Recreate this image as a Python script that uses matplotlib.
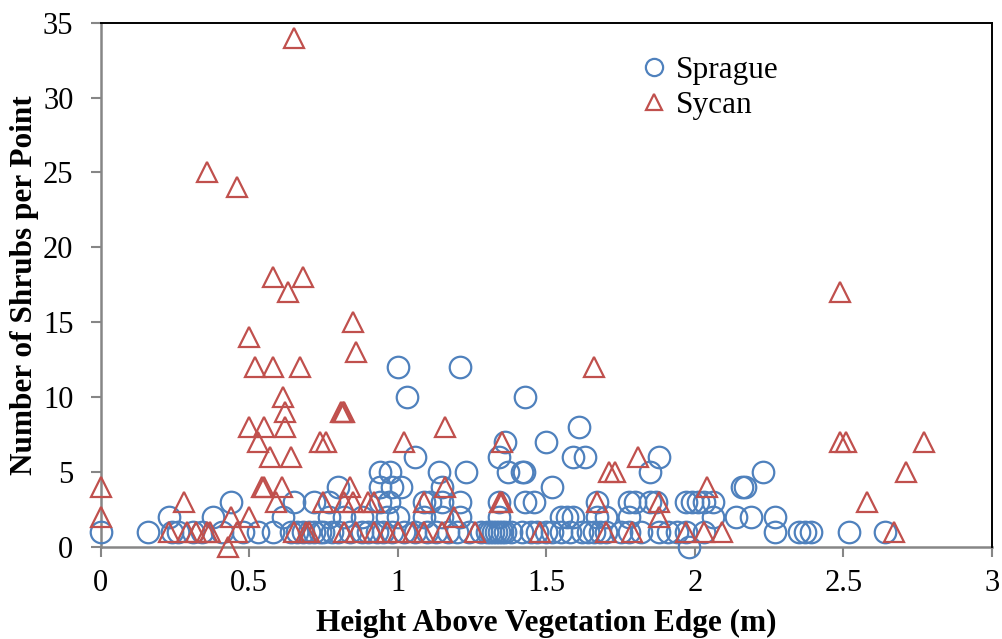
import matplotlib
matplotlib.use("Agg")
import matplotlib.pyplot as plt

# ---- data ----
sprague_x = [1.00, 1.21,
             1.03, 1.43,
             1.61,
             1.36, 1.50,
             1.06, 1.34, 1.59, 1.63, 1.88,
             0.94, 0.975, 1.14, 1.23, 1.37, 1.42, 1.425, 1.85, 2.23,
             0.80, 0.94, 0.98, 1.01, 1.15, 1.52, 2.16, 2.17,
             0.44, 0.65, 0.72, 0.77, 0.94, 0.97, 1.09, 1.11, 1.15, 1.21, 1.34, 1.43, 1.46,
             1.67, 1.78, 1.80, 1.85, 1.87, 1.97, 1.99, 2.01, 2.03, 2.06,
             0.23, 0.38, 0.615, 0.77, 0.82, 0.88, 0.965, 1.00, 1.09, 1.15, 1.21, 1.34, 1.55,
             1.57, 1.59, 1.67, 1.70, 1.78, 2.06, 2.14, 2.19, 2.27,
             0.00, 0.16, 0.24, 0.26, 0.31, 0.34, 0.41, 0.48, 0.53, 0.58, 0.64, 0.66, 0.68,
             0.70, 0.72, 0.74, 0.75, 0.78, 0.80, 0.84, 0.88, 0.90, 0.93, 0.95, 0.98, 1.02,
             1.06, 1.10, 1.13, 1.17, 1.20, 1.24, 1.28, 1.30, 1.31, 1.32, 1.33, 1.34, 1.35,
             1.36, 1.38, 1.42, 1.45, 1.47, 1.50, 1.52, 1.55, 1.58, 1.62, 1.64, 1.66, 1.68,
             1.70, 1.75, 1.78, 1.82, 1.88, 1.91, 1.94, 1.97, 2.03, 2.27, 2.35, 2.37, 2.39,
             2.52, 2.64,
             1.98]
sprague_y = [12, 12,
             10, 10,
             8,
             7, 7,
             6, 6, 6, 6, 6,
             5, 5, 5, 5, 5, 5, 5, 5, 5,
             4, 4, 4, 4, 4, 4, 4, 4,
             3, 3, 3, 3, 3, 3, 3, 3, 3, 3, 3, 3, 3,
             3, 3, 3, 3, 3, 3, 3, 3, 3, 3,
             2, 2, 2, 2, 2, 2, 2, 2, 2, 2, 2, 2, 2,
             2, 2, 2, 2, 2, 2, 2, 2, 2,
             1, 1, 1, 1, 1, 1, 1, 1, 1, 1, 1, 1, 1,
             1, 1, 1, 1, 1, 1, 1, 1, 1, 1, 1, 1, 1,
             1, 1, 1, 1, 1, 1, 1, 1, 1, 1, 1, 1, 1,
             1, 1, 1, 1, 1, 1, 1, 1, 1, 1, 1, 1, 1,
             1, 1, 1, 1, 1, 1, 1, 1, 1, 1, 1, 1, 1,
             1, 1,
             0]

sycan_x = [0.65,
           0.36,
           0.46,
           0.58, 0.68,
           0.63, 2.49,
           0.85,
           0.50,
           0.86,
           0.52, 0.58, 0.67, 1.66,
           0.615,
           0.62, 0.81, 0.815, 0.82,
           0.50, 0.55, 0.62, 1.16,
           0.53, 0.74, 0.76, 1.02, 1.35, 2.49, 2.51, 2.77,
           0.57, 0.64, 1.81,
           1.71, 1.73, 2.71,
           0.00, 0.545, 0.55, 0.61, 0.84, 1.16, 2.04,
           0.28, 0.59, 0.75, 0.82, 0.85, 0.90, 0.92, 1.09, 1.345, 1.35, 1.67, 1.88, 2.58,
           0.00, 0.44, 0.50, 1.19, 1.88,
           0.23, 0.29, 0.32, 0.36, 0.37, 0.46, 0.65, 0.69, 0.70, 0.82, 0.86, 0.92, 0.965,
           1.00, 1.05, 1.09, 1.15, 1.26, 1.48, 1.70, 1.79, 1.97, 2.03, 2.09, 2.67,
           0.43]
sycan_y = [34,
           25,
           24,
           18, 18,
           17, 17,
           15,
           14,
           13,
           12, 12, 12, 12,
           10,
           9, 9, 9, 9,
           8, 8, 8, 8,
           7, 7, 7, 7, 7, 7, 7, 7,
           6, 6, 6,
           5, 5, 5,
           4, 4, 4, 4, 4, 4, 4,
           3, 3, 3, 3, 3, 3, 3, 3, 3, 3, 3, 3, 3,
           2, 2, 2, 2, 2,
           1, 1, 1, 1, 1, 1, 1, 1, 1, 1, 1, 1, 1,
           1, 1, 1, 1, 1, 1, 1, 1, 1, 1, 1, 1,
           0]

x_ticks = [0, 0.5, 1, 1.5, 2, 2.5, 3]
x_tick_labels = ["0", "0.5", "1", "1.5", "2", "2.5", "3"]
y_ticks = [0, 5, 10, 15, 20, 25, 30, 35]
series_names = ["Sprague", "Sycan"]

# ---- style ----
plt.rcParams['font.family'] = ['Liberation Serif', 'DejaVu Serif']
blue = '#4F81BD'
red = '#C0504D'
gray = '#868686'

fig = plt.figure(figsize=(10.03, 6.39), dpi=100)
ax = fig.add_axes([0.1002, 0.144, 0.8888, 0.8205])

ax.plot(sprague_x, sprague_y, linestyle='none', marker='o', markersize=15.5,
        markerfacecolor='none', markeredgecolor=blue, markeredgewidth=1.6,
        label=series_names[0], clip_on=False)
ax.plot(sycan_x, sycan_y, linestyle='none', marker='^', markersize=14,
        markerfacecolor='none', markeredgecolor=red, markeredgewidth=1.6,
        label=series_names[1], clip_on=False)

ax.set_xlim(0, 3)
ax.set_ylim(0, 35)
ax.set_xticks(x_ticks)
ax.set_xticklabels(x_tick_labels)
ax.set_yticks(y_ticks)

for side in ['left', 'bottom']:
    ax.spines[side].set_color(gray)
    ax.spines[side].set_linewidth(1.8)
for side in ['top', 'right']:
    ax.spines[side].set_color('black')
    ax.spines[side].set_linewidth(1.4)
ax.spines['left'].set_zorder(0.5)
ax.spines['bottom'].set_zorder(0.5)

ax.tick_params(axis='both', direction='out', length=7.5, width=1.5, color=gray,
               labelsize=22, labelcolor='black')
ax.tick_params(axis='x', pad=8)
ax.tick_params(axis='y', pad=12)

ax.set_xlabel("Height Above Vegetation Edge (m)", fontsize=22.5, fontweight='bold', labelpad=8)
ax.set_ylabel("Number of Shrubs per Point", fontsize=22.5, fontweight='bold', labelpad=3)

leg = ax.legend(loc='upper left', bbox_to_anchor=(0.603, 0.937), frameon=False,
                fontsize=22.5, handlelength=1.0, handletextpad=0.2, labelspacing=0.2,
                borderaxespad=0, borderpad=0, markerscale=0.8)

fig.savefig("out.png", dpi=100)
